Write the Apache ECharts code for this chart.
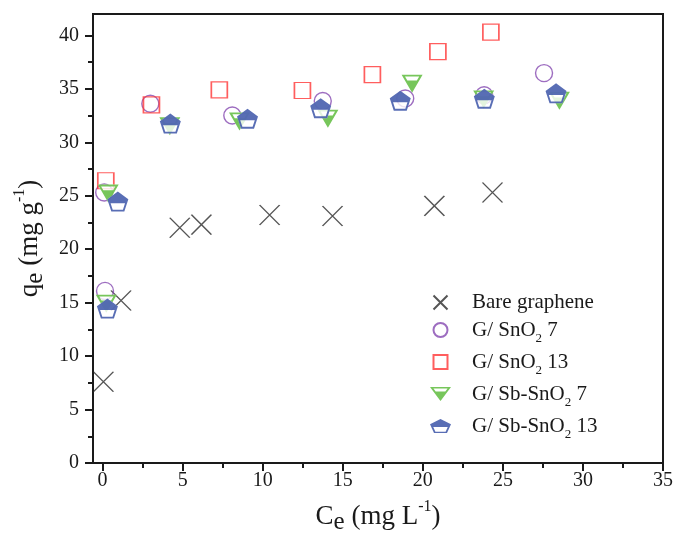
<!DOCTYPE html>
<html><head><meta charset="utf-8">
<script src="https://cdn.jsdelivr.net/npm/echarts@6/dist/echarts.min.js"></script>
<style>html,body{margin:0;padding:0;background:#fff}#c{width:676px;height:544px}</style>
</head><body><div id="c"></div>
<script>
// ---- data ----
const seriesNames = ['Bare graphene', 'G/ SnO2 7', 'G/ SnO2 13', 'G/ Sb-SnO2 7', 'G/ Sb-SnO2 13'];

const bareX = [0.05, 1.15, 4.82, 6.17, 10.43, 14.36, 20.72, 24.35];
const bareY = [7.6, 15.2, 22.0, 22.3, 23.2, 23.1, 24.05, 25.3];

const sno7X = [0.15, 0.1, 2.98, 8.1, 13.75, 18.9, 23.83, 27.57];
const sno7Y = [16.1, 25.3, 33.6, 32.5, 33.86, 34.1, 34.4, 36.47];

const sno13X = [0.2, 3.05, 7.29, 12.48, 16.85, 20.94, 24.25];
const sno13Y = [26.4, 33.5, 34.9, 34.84, 36.33, 38.48, 40.3];

const sbs7X = [0.23, 0.35, 4.2, 8.55, 14.07, 19.33, 23.8, 28.53];
const sbs7Y = [14.9, 25.2, 31.5, 31.95, 32.2, 35.48, 34.0, 33.89];

const sbs13X = [0.3, 0.95, 4.23, 9.05, 13.62, 18.59, 23.84, 28.32];
const sbs13Y = [14.45, 24.45, 31.75, 32.2, 33.19, 33.89, 34.08, 34.58];

const xTicks = [0, 5, 10, 15, 20, 25, 30, 35];
const xMinor = [2.5, 7.5, 12.5, 17.5, 22.5, 27.5, 32.5];
const yTicks = [0, 5, 10, 15, 20, 25, 30, 35, 40];
const yMinor = [2.5, 7.5, 12.5, 17.5, 22.5, 27.5, 32.5, 37.5];

// ---- styling ----
const FONT = 'Liberation Serif';
const INK = '#1a1a1a';
const C_X = '#2b2b2b', C_PURPLE = '#8548b0', C_RED = '#ff3636', C_GREEN = '#55b832', C_BLUE = '#2f4aa3';

// symbol boxes are 150x100 (X and square) so they stay square in a 21x14 legend box
const X_PATH = 'path://M-25,0L-25,0M125,100L125,100M0,0L100,100M100,0L0,100';
const SQ_PATH = 'path://M-25,0L-25,0M125,100L125,100M0,0L100,0L100,100L0,100Z';
const TRI_OUT = 'M0,0L100,0L50,100Z';
const TRI_IN = 'M16.2,10L50,77.6L83.8,10Z';
const TRI_FILL = 'M16,32L84,32L50,100Z';
const PEN_OUT = 'M50,0L100,36.33L80.9,95.1L19.1,95.1L0,36.33Z';
const PEN_IN = 'M50,11.14L10.6,39.77L25.65,86.08L74.35,86.08L89.4,39.77Z';
const PEN_FILL = 'M50,0L100,36.33L93.93,55L6.07,55L0,36.33Z';

const zip = (xs, ys) => xs.map((x, i) => [x, ys[i]]);

const titleRich = {
  t: { fontFamily: FONT, fontSize: 27, lineHeight: 36, color: INK },
  b: { fontFamily: FONT, fontSize: 25, lineHeight: 21, verticalAlign: 'bottom', color: INK },
  p: { fontFamily: FONT, fontSize: 16, lineHeight: 28, verticalAlign: 'top', color: INK }
};

const chart = echarts.init(document.getElementById('c'), null, { renderer: 'canvas' });

const tickLine = { color: INK, width: 2 };
const option = {
  animation: false,
  backgroundColor: '#fff',
  grid: { left: 93, right: 12, top: 14, bottom: 81, show: true, borderColor: INK, borderWidth: 2, backgroundColor: 'rgba(0,0,0,0)' },
  xAxis: [
    {
      type: 'value', min: -0.6, max: 35, position: 'bottom',
      axisLine: { show: true, onZero: false, lineStyle: { color: INK, width: 2 } },
      axisTick: { show: true, inside: false, length: 8, customValues: xTicks, lineStyle: tickLine },
      axisLabel: { customValues: xTicks, margin: 8, fontFamily: FONT, fontSize: 20, color: INK },
      splitLine: { show: false },
      name: '{t|C}{b|e}{t| (mg L}{p|-1}{t|)}',
      nameLocation: 'middle', nameGap: 36,
      nameTextStyle: { rich: titleRich }
    },
    {
      type: 'value', min: -0.6, max: 35, position: 'bottom', offset: 0,
      axisLine: { show: false, onZero: false },
      axisTick: { show: true, inside: false, length: 5, customValues: xMinor, lineStyle: tickLine },
      axisLabel: { show: false },
      splitLine: { show: false }
    }
  ],
  yAxis: [
    {
      type: 'value', min: 0, max: 42, position: 'left',
      axisLine: { show: true, onZero: false, lineStyle: { color: INK, width: 2 } },
      axisTick: { show: true, inside: false, length: 8, customValues: yTicks, lineStyle: tickLine },
      axisLabel: { customValues: yTicks, margin: 14, fontFamily: FONT, fontSize: 20, color: INK },
      splitLine: { show: false },
      name: '{t|q}{b|e}{t| (mg g}{p|-1}{t|)}',
      nameLocation: 'middle', nameGap: 42,
      nameTextStyle: { rich: titleRich }
    },
    {
      type: 'value', min: 0, max: 42, position: 'left', offset: 0,
      axisLine: { show: false, onZero: false },
      axisTick: { show: true, inside: false, length: 5, customValues: yMinor, lineStyle: tickLine },
      axisLabel: { show: false },
      splitLine: { show: false }
    }
  ],
  legend: {
    data: seriesNames,
    orient: 'vertical', left: 424, top: 287,
    itemWidth: 21, itemHeight: 14, itemGap: 2,
    symbolKeepAspect: false,
    padding: 5,
    formatter: function (name) {
      return name.indexOf('O2') >= 0 ? name.replace('O2', 'O{s|2}') + '{h| }' : name;
    },
    textStyle: {
      fontFamily: FONT, fontSize: 21, lineHeight: 20, color: INK, padding: [0, 0, 0, 16],
      rich: {
        s: { fontFamily: FONT, fontSize: 13, lineHeight: 14, verticalAlign: 'bottom', color: INK },
        h: { fontFamily: FONT, fontSize: 1, lineHeight: 30 }
      }
    }
  },
  series: [
    {
      type: 'scatter', name: seriesNames[0], data: zip(bareX, bareY),
      symbol: X_PATH, symbolSize: [30, 20],
      itemStyle: { color: 'rgba(0,0,0,0)', borderColor: C_X, borderWidth: 1.3 }
    },
    {
      type: 'scatter', name: seriesNames[1], data: zip(sno7X, sno7Y),
      symbol: 'circle', symbolSize: 17,
      itemStyle: { color: 'rgba(0,0,0,0)', borderColor: C_PURPLE, borderWidth: 1.4 }
    },
    {
      type: 'scatter', name: seriesNames[2], data: zip(sno13X, sno13Y),
      symbol: SQ_PATH, symbolSize: [24, 16],
      itemStyle: { color: 'rgba(0,0,0,0)', borderColor: C_RED, borderWidth: 1.4 }
    },
    {
      type: 'scatter', name: '_triBg', data: zip(sbs7X, sbs7Y), silent: true,
      symbol: 'path://' + TRI_OUT, symbolSize: [21, 18],
      itemStyle: { color: '#fff' }
    },
    {
      type: 'scatter', name: seriesNames[3], data: zip(sbs7X, sbs7Y),
      symbol: 'path://' + TRI_OUT + TRI_IN + TRI_FILL, symbolSize: [21, 18],
      itemStyle: { color: C_GREEN }
    },
    {
      type: 'scatter', name: '_penBg', data: zip(sbs13X, sbs13Y), silent: true,
      symbol: 'path://' + PEN_OUT, symbolSize: [21, 20],
      itemStyle: { color: '#fff' }
    },
    {
      type: 'scatter', name: seriesNames[4], data: zip(sbs13X, sbs13Y),
      symbol: 'path://' + PEN_OUT + PEN_IN + PEN_FILL, symbolSize: [21, 20],
      itemStyle: { color: C_BLUE }
    }
  ]
};
chart.setOption(option);
</script>
</body></html>
